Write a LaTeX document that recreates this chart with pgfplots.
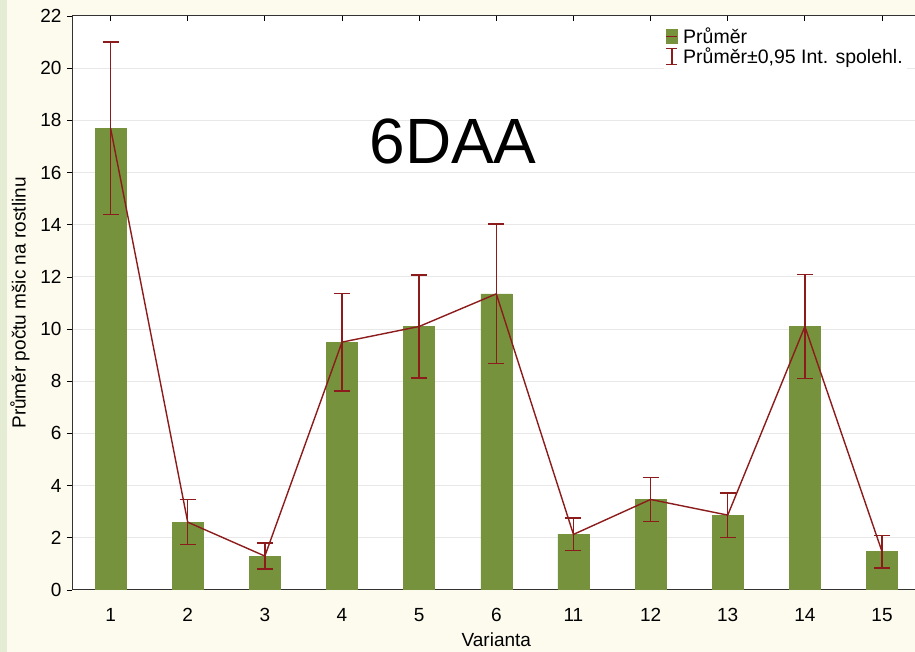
\documentclass[border=0pt]{standalone}
\usepackage{pgfplots}
\pgfplotsset{compat=1.18}
\usepackage{fontspec}
\setmainfont{Liberation Sans}

\definecolor{barg}{RGB}{118,146,60}
\definecolor{darkred}{RGB}{140,28,28}
\definecolor{cream}{RGB}{253,250,238}
\definecolor{strip}{RGB}{228,236,212}
\definecolor{gridc}{RGB}{232,232,232}

\begin{document}
\begin{tikzpicture}
  \useasboundingbox (0,0) rectangle (915pt,652pt);
  \clip (0,0) rectangle (915pt,652pt);
  \fill[cream] (0,0) rectangle (915pt,652pt);
  \fill[strip] (0,0) rectangle (7pt,652pt);
  \begin{axis}[
      at={(72pt,62pt)}, anchor=south west,
      scale only axis,
      width=848.6pt, height=574pt,
      xmin=-0.5, xmax=10.5,
      ymin=0, ymax=22,
      axis background/.style={fill=white},
      xtick={0,...,10},
      xticklabels={1,2,3,4,5,6,11,12,13,14,15},
      ytick={0,2,...,22},
      xtick align=inside,
      ytick align=outside,
      major tick length=5pt,
      tick style={black, line width=0.8pt},
      axis line style={black!80, line width=1pt},
      ymajorgrids, grid style={gridc, line width=1pt},
      font=\fontsize{19}{22}\selectfont,
      /pgf/number format/assume math mode=true,
      xticklabel style={yshift=-15pt},
      yticklabel style={xshift=-2pt},
      xlabel={Varianta},
      ylabel={Průměr počtu mšic na rostlinu},
      xlabel style={yshift=-4pt},
      ylabel style={yshift=4pt},
      legend style={at={(0.697,0.987)}, anchor=north west,
                    draw=none, fill=white,
                    font=\fontsize{19.5}{22}\selectfont,
                    row sep=-1pt, inner sep=2pt,
                    /tikz/every odd column/.append style={column sep=3pt}},
      legend cell align=left,
    ]
    \addplot[ybar, bar width=31pt, fill=barg, draw=barg, forget plot]
      coordinates {
        (0,17.7) (1,2.6) (2,1.3) (3,9.5) (4,10.1) (5,11.35)
        (6,2.13) (7,3.47) (8,2.87) (9,10.1) (10,1.47)
      };
    \addplot[darkred, line width=1.4pt, mark=none,
             legend image code/.code={
               \fill[barg] (0pt,-7pt) rectangle (11pt,7pt);
               \draw[darkred, line width=1.5pt] (0pt,0pt) -- (11pt,0pt);},
             error bars/.cd, y dir=both, y explicit,
             error bar style={darkred, line width=1.5pt},
             error mark options={darkred, mark size=8pt, line width=1.5pt, rotate=90}]
      coordinates {
        (0,17.7) +- (0,3.3)
        (1,2.6) +- (0,0.86)
        (2,1.3) +- (0,0.5)
        (3,9.5) +- (0,1.87)
        (4,10.1) +- (0,1.97)
        (5,11.35) +- (0,2.67)
        (6,2.13) +- (0,0.62)
        (7,3.47) +- (0,0.84)
        (8,2.87) +- (0,0.85)
        (9,10.1) +- (0,2.0)
        (10,1.47) +- (0,0.62)
      };
    \addlegendentry{Průměr}
    \addlegendimage{legend image code/.code={
        \draw[darkred, line width=1.2pt] (5.5pt,-8pt) -- (5.5pt,8pt);
        \draw[darkred, line width=1.2pt] (0pt,-8pt) -- (11pt,-8pt);
        \draw[darkred, line width=1.2pt] (0pt,8pt) -- (11pt,8pt);}}
    \addlegendentry{Průměr±0,95 Int. spolehl.}
    \node[font=\fontsize{64}{68}\selectfont, black] at (axis cs:4.44,17.2) {6DAA};
  \end{axis}
\end{tikzpicture}
\end{document}
